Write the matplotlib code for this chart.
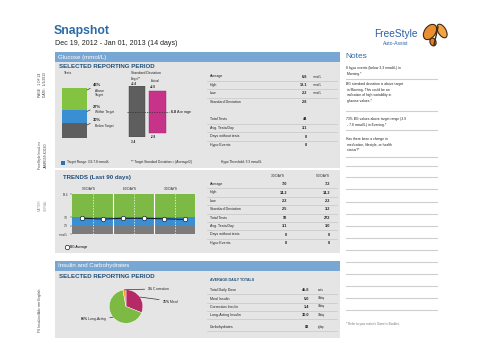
import numpy as np
import matplotlib
matplotlib.use("Agg")
import matplotlib.pyplot as plt
from matplotlib.patches import Rectangle, Ellipse

plt.rcParams["font.family"] = ["Liberation Sans", "DejaVu Sans"]
plt.rcParams["mathtext.fontset"] = "custom"
plt.rcParams["mathtext.rm"] = "Liberation Sans"
plt.rcParams["mathtext.bf"] = "Liberation Sans:bold"

W, H = 481, 358

# ---------------------------------------------------------------------------
# DATA
# ---------------------------------------------------------------------------
title = "Snapshot"
date_range = "Dec 19, 2012 - Jan 01, 2013 (14 days)"

tests_pct = [30, 27, 43]
tests_names = ["Below Target", "Within Target", "Above\nTarget"]

sd_target = 3.4
sd_actual = 2.8
bg_average = 6.8

glucose_labels = ["Average", "High", "Low", "Standard Deviation",
                  "Total Tests", "Avg. Tests/Day", "Days without tests", "Hypo Events"]
glucose_values = ["6.8", "12.1", "2.2", "2.8", "44", "3.1", "0", "8"]
glucose_units = ["mmol/L", "mmol/L", "mmol/L", "", "", "", "", ""]

trend_periods = ["90 DAYS", "60 DAYS", "30 DAYS"]
trend_avg = [7.2, 6.9, 7.2, 7.2, 7.0, 6.7]
target_low, target_high, trend_top = 3.9, 7.8, 18.4

trend_labels = glucose_labels
trend_30 = ["7.0", "14.2", "2.2", "2.5", "92", "3.1", "0", "8"]
trend_90 = ["7.2", "14.2", "2.2", "3.2", "272", "3.0", "0", "8"]

insulin_pct = [31, 66, 3]
insulin_names = ["Meal", "Long-Acting", "Correction"]

insulin_labels = ["Total Daily Dose", "Meal Insulin", "Correction Insulin",
                  "Long-Acting Insulin", "Carbohydrates"]
insulin_values = ["45.6", "5.0", "1.4", "30.0", "83"]
insulin_units = ["units", "U/day", "U/day", "U/day", "g/day"]

notes = [
    "8 hypo events (below 3.3 mmol/L) in\n Morning.*",
    "BG standard deviation is above target\n in Morning. This could be an\n indication of high variability in\n glucose values.*",
    "73% BG values above target range (3.9\n - 7.8 mmol/L) in Evening.*",
    "Has there been a change in\n medication, lifestyle, or health\n status?*",
]

# colours
PANEL = "#e5e5e5"
HEADER = "#79a7d3"
DARKBLUE = "#1f4f7a"
TITLEBLUE = "#2b6aa6"
GREEN = "#84c341"
BLUE = "#3a8fd3"
GRAY = "#5e5e5e"
MAGENTA = "#c8338a"
TXT = "#222222"


# ---------------------------------------------------------------------------
# HELPERS
# ---------------------------------------------------------------------------
fig = plt.figure(figsize=(W / 100, H / 100), dpi=100)
base = fig.add_axes([0, 0, 1, 1])
base.set_xlim(0, W)
base.set_ylim(H, 0)
base.axis("off")


def sub_axes(x0, y0, x1, y1):
    ax = fig.add_axes([x0 / W, 1 - y1 / H, (x1 - x0) / W, (y1 - y0) / H])
    ax.set_facecolor("none")
    return ax


def table(rows_y, labels, cols, sep_after, x_lab=210, x0=207, x1=337):
    for i, (y, lab) in enumerate(zip(rows_y, labels)):
        base.text(x_lab, y, lab, fontsize=2.6, color=TXT, va="center")
        for (xv, vals, kw) in cols:
            if vals[i]:
                base.text(xv, y, vals[i], va="center", color=TXT, **kw)
        if i in sep_after:
            base.plot([x0, x1], [y + 4.2, y + 4.2], color="#c6c6c6", lw=0.5)


def small(ax, s, xy, dy, va, size=2.2, weight="bold"):
    ax.annotate(s, xy=xy, xytext=(0, dy), textcoords="offset pixels", fontsize=size,
                fontweight=weight, color=TXT, va=va, annotation_clip=False)


# ---------------------------------------------------------------------------
# TITLE / LOGO / SIDE TEXT
# ---------------------------------------------------------------------------
base.text(54, 31, title, fontsize=8.8, fontweight="bold", color=TITLEBLUE, va="center")
base.text(55, 43.5, date_range, fontsize=5.1, color=TXT, va="center")

base.text(374, 34, "FreeStyle", fontsize=7.3, color="#2d5fa8", va="center")
base.text(383, 43.5, "Auto-Assist", fontsize=3.6, color="#2d5fa8", va="center")
edge_c = "#3b2a18"
base.add_patch(Ellipse((430, 32), 11, 17, angle=35, fc="#ec8e2e", ec=edge_c, lw=0.8))
base.add_patch(Ellipse((442, 31), 8, 15, angle=-30, fc="#f2a444", ec=edge_c, lw=0.8))
base.add_patch(Ellipse((433, 42), 6, 8, angle=-20, fc="#e07f24", ec=edge_c, lw=0.8))
base.plot([434, 438], [45, 27], color=edge_c, lw=1.0)

side_kw = dict(rotation=90, fontsize=2.4, color="#444444", ha="center", va="center")
base.text(40, 85, "PAGE   1 OF 24", **side_kw)
base.text(45.5, 85, "DATE:  1/1/2013", **side_kw)
base.text(40, 155, "FreeStyle InsuLinx", **side_kw)
base.text(45.5, 155, "JAMR159-K3160", **side_kw)
base.text(40, 205, "METER", **dict(side_kw, color="#9a9a9a"))
base.text(45.5, 205, "SERIAL", **dict(side_kw, color="#9a9a9a"))
base.text(40, 310, "FS InsuLinx/Adv mm English", **side_kw)

# ---------------------------------------------------------------------------
# GLUCOSE PANEL
# ---------------------------------------------------------------------------
base.add_patch(Rectangle((55, 52), 285, 116, fc=PANEL, ec="none"))
base.add_patch(Rectangle((55, 52), 285, 10, fc=HEADER, ec="none"))
base.text(58, 57, "Glucose (mmol/L)", fontsize=4.4, color="white", va="center")
base.text(59, 66, "SELECTED REPORTING PERIOD", fontsize=4.4, fontweight="bold",
          color=DARKBLUE, va="center")
base.text(64, 72.5, "Tests", fontsize=2.5, color=TXT, va="center")
base.text(131, 72.5, "Standard Deviation", fontsize=2.5, color=TXT, va="center")

# stacked tests bar
axb = sub_axes(62, 88, 87, 138)
bottoms = np.concatenate([[0], np.cumsum(tests_pct)[:-1]])
axb.bar(0, tests_pct, bottom=bottoms, width=1, color=[GRAY, BLUE, GREEN], edgecolor="none")
axb.set_xlim(-0.5, 0.5)
axb.set_ylim(0, 100)
axb.axis("off")
for p, b, name in zip(tests_pct, bottoms, tests_names):
    top = b + p
    axb.annotate(f"{p}%", xy=(0.5, top - 4), xytext=(6, 5),
                 textcoords="offset pixels", fontsize=2.9, fontweight="bold", color=TXT,
                 ha="left", va="center", annotation_clip=False,
                 arrowprops=dict(arrowstyle="-", lw=0.5, color="#333333",
                                 shrinkA=0, shrinkB=0))
    axb.annotate(name, xy=(0.5, top - 4), xytext=(8, 1), textcoords="offset pixels",
                 fontsize=2.3, color=TXT, ha="left", va="top", linespacing=1.1,
                 annotation_clip=False)

# standard deviation bars
axs = sub_axes(127, 86, 168, 137)
axs.bar(10, 2 * sd_target, bottom=bg_average - sd_target, width=16, color=GRAY,
        edgecolor="#444444", lw=0.3)
axs.bar(30.5, 2 * sd_actual, bottom=bg_average - sd_actual, width=17, color=MAGENTA,
        edgecolor="#a02468", lw=0.3)
axs.plot([0, 42], [bg_average, bg_average], ls=(0, (2, 1.5)), lw=0.5, color="#333333",
         clip_on=False)
axs.set_xlim(0, 41)
axs.set_ylim(bg_average - sd_target, bg_average + sd_target)
axs.axis("off")
axs.annotate(r"$\mathbf{%.1f}$ Average" % bg_average, xy=(42, bg_average),
             xytext=(1, 0), textcoords="offset pixels", fontsize=2.8, color=TXT,
             va="center", annotation_clip=False)
small(axs, "Target**", (4, bg_average + sd_target), 5, "bottom", 2.0, "normal")
small(axs, f"+{sd_target}", (4, bg_average + sd_target), 0.5, "bottom")
small(axs, "Actual", (24, bg_average + sd_actual), 8, "bottom", 2.0, "normal")
small(axs, f"+{sd_actual}", (23, bg_average + sd_actual), 1.5, "bottom")
small(axs, f"-{sd_target}", (4, bg_average - sd_target), -3, "top")
small(axs, f"-{sd_actual}", (24, bg_average - sd_actual), -2, "top")

# glucose table
table([76.5, 85, 93.5, 102, 119.5, 128, 136.5, 145], glucose_labels,
      [(307, glucose_values, dict(ha="right", fontsize=2.8, fontweight="bold")),
       (313, glucose_units, dict(ha="left", fontsize=2.0))],
      sep_after={0, 1, 2, 4, 5, 6})

# legend row
base.add_patch(Rectangle((61, 160.5), 4, 4, fc="#2d6fb5", ec="none"))
base.text(67, 162.5, "Target Range: 3.9-7.8 mmol/L", fontsize=2.3, color=TXT, va="center")
base.text(131, 162.5, "** Target Standard Deviation = (Average/2)", fontsize=2.3,
          color=TXT, va="center")
base.text(221, 162.5, "Hypo Threshold: 3.3 mmol/L", fontsize=2.3, color=TXT, va="center")

# ---------------------------------------------------------------------------
# TRENDS PANEL
# ---------------------------------------------------------------------------
base.add_patch(Rectangle((55, 170), 285, 83, fc=PANEL, ec="none"))
base.text(63, 177.5, "TRENDS (Last 90 days)", fontsize=4.4, fontweight="bold",
          color=DARKBLUE, va="center")

axt = sub_axes(72, 194, 195, 234)
axt.axhspan(0, target_low, color="#7b7b7b", lw=0)
axt.axhspan(target_low, target_high, color=BLUE, lw=0)
axt.axhspan(target_high, trend_top, color="#7cba45", lw=0)
for xv in [2, 4]:
    axt.axvline(xv, color="white", lw=0.8)
for xv in [1, 3, 5]:
    axt.axvline(xv, color="white", lw=0.5, ls=(0, (2, 2)))
xs = np.arange(len(trend_avg)) + 0.5
axt.plot(xs, trend_avg, color="#15213a", lw=0.8, marker="o", ms=3.2,
         mfc="white", mec="#15213a", mew=0.5, label="BG Average")
axt.set_xlim(0, 6)
axt.set_ylim(0, trend_top)
axt.set_xticks([])
axt.set_yticks([0, target_low, target_high, trend_top])
axt.set_yticklabels(["mmol/L", str(target_low), str(target_high), str(trend_top)])
axt.tick_params(axis="y", labelsize=2.0, length=1.5, width=0.3, pad=1.5,
                colors="#333333")
for s in axt.spines.values():
    s.set_visible(False)
for i, p in enumerate(trend_periods):
    axt.annotate(p, xy=(2 * i + 1, trend_top), xytext=(-4, 5), textcoords="offset pixels",
                 fontsize=2.3, color=TXT, ha="center", va="center", annotation_clip=False)
axt.legend(loc="center left", bbox_to_anchor=(-0.055, -0.33), frameon=False,
           fontsize=2.3, handlelength=0.9, handletextpad=0.5, borderpad=0,
           borderaxespad=0)
axt.get_legend().get_lines()[0].set_linestyle("none")

base.text(277, 176, "30 DAYS", fontsize=2.3, color=TXT, ha="center", va="center")
base.text(322, 176, "90 DAYS", fontsize=2.3, color=TXT, ha="center", va="center")
table([184, 192.5, 201, 209.5, 218, 226, 234.5, 243], trend_labels,
      [(287, trend_30, dict(ha="right", fontsize=2.8, fontweight="bold")),
       (330, trend_90, dict(ha="right", fontsize=2.8, fontweight="bold"))],
      sep_after={0, 1, 2, 3, 4, 5, 6})

# ---------------------------------------------------------------------------
# INSULIN PANEL
# ---------------------------------------------------------------------------
base.add_patch(Rectangle((55, 261), 285, 77, fc=PANEL, ec="none"))
base.add_patch(Rectangle((55, 261), 285, 10, fc=HEADER, ec="none"))
base.text(58, 266, "Insulin and Carbohydrates", fontsize=4.4, color="white", va="center")
base.text(59, 276, "SELECTED REPORTING PERIOD", fontsize=4.4, fontweight="bold",
          color=DARKBLUE, va="center")

axp = sub_axes(105, 285, 147, 328)
wedges, _ = axp.pie(insulin_pct, colors=["#b52a66", "#7dba43", "#f2a232"],
                    startangle=90, counterclock=False,
                    wedgeprops=dict(edgecolor="white", linewidth=0.3))
axp.set_aspect("equal")
label_offsets = [(22, -4, "left"), (-6, -2, "right"), (23, 1, "left")]
for w, p, name, (dx, dy, ha) in zip(wedges, insulin_pct, insulin_names, label_offsets):
    ang = np.deg2rad((w.theta1 + w.theta2) / 2)
    xy = (np.cos(ang), np.sin(ang))
    axp.annotate(r"$\mathbf{%d\%%}$ %s" % (p, name), xy=xy, xytext=(dx, dy),
                 textcoords="offset pixels", fontsize=2.4, color=TXT, ha=ha,
                 va="center", annotation_clip=False,
                 arrowprops=dict(arrowstyle="-", lw=0.5, color="#333333",
                                 shrinkA=0, shrinkB=0))

base.text(210, 280, "AVERAGE DAILY TOTALS", fontsize=2.6, fontweight="bold",
          color=DARKBLUE, va="center")
table([290, 298.5, 306.5, 315, 327], insulin_labels,
      [(309, insulin_values, dict(ha="right", fontsize=2.8, fontweight="bold")),
       (318, insulin_units, dict(ha="left", fontsize=2.0))],
      sep_after={0, 1, 2, 3, 4})

# ---------------------------------------------------------------------------
# NOTES COLUMN
# ---------------------------------------------------------------------------
base.text(345, 56.5, "Notes", fontsize=6, color=TITLEBLUE, va="center")
note_y = [66, 82, 117, 137]
for y, n in zip(note_y, notes):
    base.text(346, y, n, fontsize=2.4, color=TXT, va="top", linespacing=1.55)
rules_y = [79, 111, 130, 157, 166, 177, 189, 202, 214, 226, 238, 250, 262, 274, 286, 298, 310]
for y in rules_y:
    base.plot([346, 437], [y, y], color="#cfcfcf", lw=0.8)
base.text(346, 324, "* Refer to your meter's Owner's Booklet.", fontsize=2.2,
          color="#777777", va="center")

fig.savefig("out.png", dpi=100)
